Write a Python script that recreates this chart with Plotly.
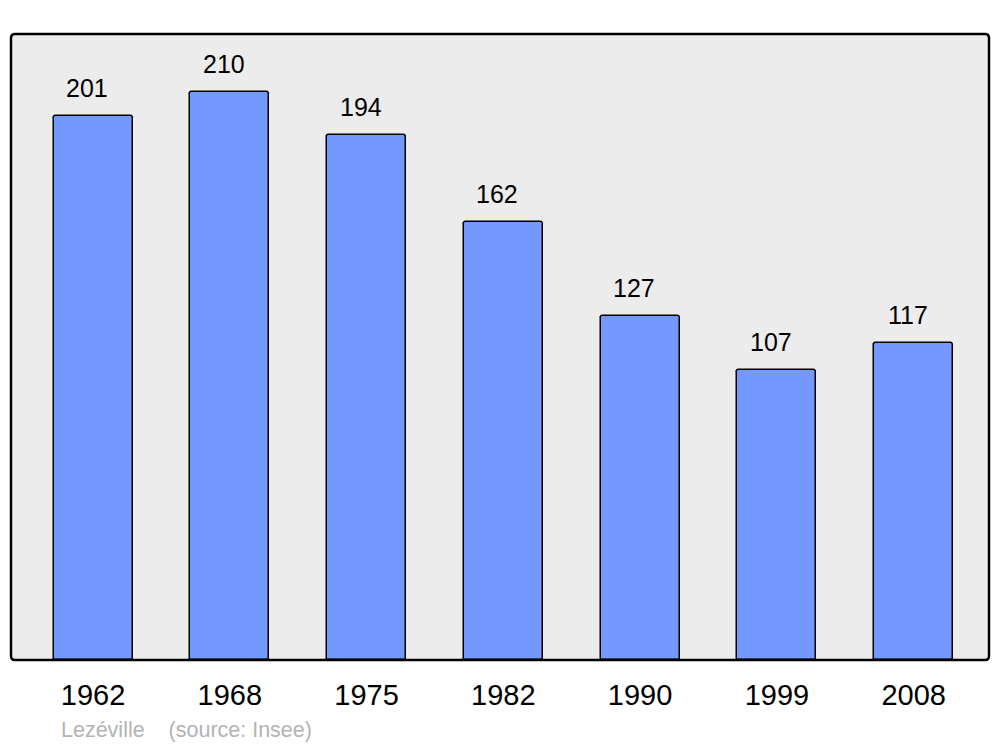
import plotly.graph_objects as go

years = ["1962", "1968", "1975", "1982", "1990", "1999", "2008"]
population = [201, 210, 194, 162, 127, 107, 117]
source_text = "Lezéville    (source: Insee)"

# page body has an 8px margin; figure occupies 8..1000 x 8..747
OFF = 8
W, H = 1000 - OFF, 747 - OFF
L, R, T, B = 11 - OFF, 11, 34 - OFF, 87
pw, ph = W - L - R, H - T - B

xs = list(range(len(years)))
FONT = "Liberation Sans, Arial, sans-serif"

fig = go.Figure()
fig.add_trace(go.Bar(
    x=xs, y=population, width=0.578,
    marker=dict(color="#7399FF", line=dict(color="#000000", width=1.5), cornerradius=3),
    hoverinfo="skip",
))

for i, v in zip(xs, population):
    fig.add_annotation(x=i, y=v, text=str(v), showarrow=False, xanchor="center",
                       yanchor="bottom", xshift=-6, yshift=12,
                       font=dict(family=FONT, size=25, color="#000"))

# rounded border of plot area
rx, ry = 4 / pw, 4 / ph
path = (f"M {rx},0 L {1-rx},0 Q 1,0 1,{ry} L 1,{1-ry} Q 1,1 {1-rx},1 "
        f"L {rx},1 Q 0,1 0,{1-ry} L 0,{ry} Q 0,0 {rx},0 Z")
fig.add_shape(type="path", xref="paper", yref="paper", path=path,
              line=dict(color="#000", width=2.5), fillcolor="rgba(0,0,0,0)", layer="above")

fig.add_annotation(xref="paper", yref="paper", x=(59 - 11) / pw, y=-(730 - 660) / ph,
                   text=source_text, showarrow=False, xanchor="left", yanchor="middle",
                   font=dict(family=FONT, size=21.5, color="#b3b3b3"))

fig.update_layout(
    width=W, height=H,
    margin=dict(l=L, r=R, t=T, b=B, pad=0),
    paper_bgcolor="#ffffff", plot_bgcolor="#ececec",
    showlegend=False,
    bargap=0,
    xaxis=dict(range=[-0.6, 6.551], tickvals=xs, ticktext=years, showgrid=False,
               zeroline=False, showline=False, ticks="", ticklabelstandoff=15,
               tickfont=dict(family=FONT, size=29, color="#000"),
               fixedrange=True),
    yaxis=dict(range=[0, 231.3], showgrid=False, zeroline=False, showticklabels=False,
               showline=False, ticks="", fixedrange=True),
)

fig.write_html("out.html")
